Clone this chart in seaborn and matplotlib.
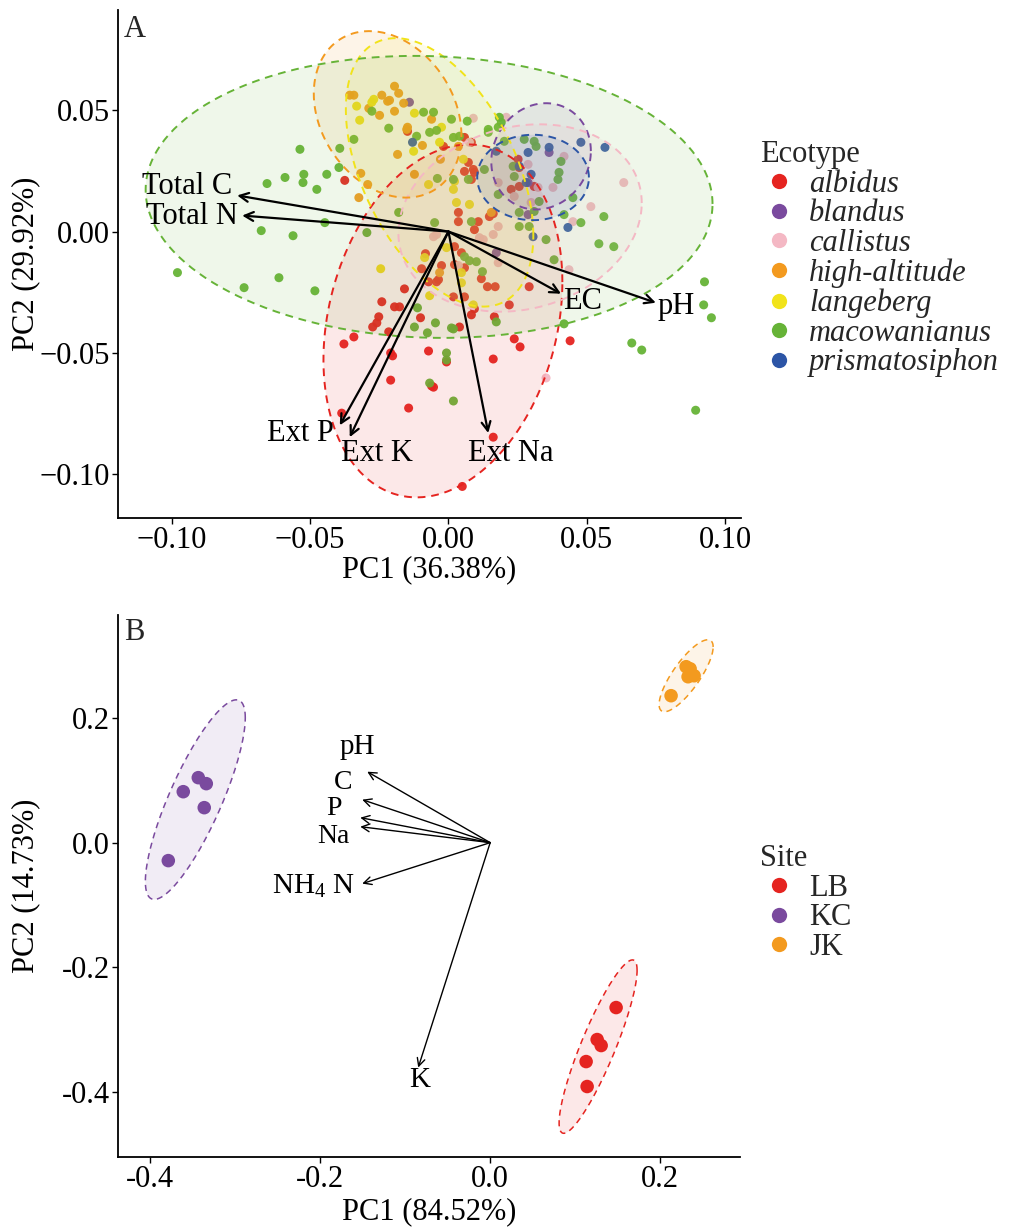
import numpy as np
import pandas as pd
import matplotlib
matplotlib.use("Agg")
import matplotlib.pyplot as plt
from matplotlib.lines import Line2D
import seaborn as sns

sns.set_theme(style="white")
plt.rcParams['font.family'] = ['Liberation Serif', 'DejaVu Serif']
plt.rcParams['mathtext.fontset'] = 'custom'
plt.rcParams['mathtext.rm'] = 'Liberation Serif'
plt.rcParams['mathtext.it'] = 'Liberation Serif:italic'

# ---------------- Panel A data ----------------
ecotypes = ["albidus", "blandus", "callistus", "high-altitude", "langeberg", "macowanianus", "prismatosiphon"]
eco_colors = ["#E52420", "#7A4A9E", "#F4B8C4", "#F39A1F", "#F1E31A", "#66B337", "#2C55A6"]

albidus_x = [-0.0375, -0.0148, -0.0018, 0.0058, 0.0083, 0.0072, 0.0090, 0.0058, 0.0094, 0.0083, 0.0252, 0.0256,
             0.0227, 0.0256, 0.0310, 0.0036, 0.0036, 0.0108, 0.0148, 0.0162, 0.0094, 0.0022, 0.0047, -0.0083,
             -0.0097, -0.0025, -0.0036, -0.0072, 0.0058, 0.0119, 0.0141, 0.0169, -0.0159, 0.0018, 0.0058,
             -0.0241, -0.0195, -0.0177, -0.0252, -0.0259, -0.0274, -0.0101, 0.0083, 0.0094, -0.0378, -0.0342,
             0.0040, -0.0216, -0.0209, -0.0202, -0.0209, -0.0072, -0.0054, -0.0144, 0.0162, 0.0162, 0.0050,
             -0.0386, 0.0238, 0.0259, 0.0440, -0.0007, 0.0166, 0.0220, -0.0043, 0.0022, 0.0292, -0.0061]
albidus_y = [0.0211, 0.0413, 0.0351, 0.0388, 0.0368, 0.0285, 0.0256, 0.0248, 0.0244, 0.0215, 0.0298, 0.0264,
             0.0174, 0.0186, 0.0186, 0.0079, 0.0041, 0.0041, 0.0062, 0.0074, 0.0008, -0.0062, -0.0087, -0.0091,
             -0.0153, -0.0140, -0.0198, -0.0207, -0.0149, -0.0194, -0.0227, -0.0227, -0.0236, -0.0269, -0.0269,
             -0.0289, -0.0310, -0.0310, -0.0351, -0.0376, -0.0393, -0.0355, -0.0343, -0.0318, -0.0463, -0.0434,
             -0.0393, -0.0413, -0.0500, -0.0512, -0.0612, -0.0492, -0.0641, -0.0727, -0.0525, -0.0847, -0.1050,
             -0.0748, -0.0442, -0.0475, -0.0450, -0.0537, -0.0351, -0.0302, -0.0207, -0.0136, -0.0227, -0.0636]

blandus_x = [-0.0141, 0.0364, 0.0288, 0.0288, 0.0173]
blandus_y = [0.0533, 0.0326, 0.0202, 0.0070, -0.0087]

callistus_x = [0.0090, 0.0209, 0.0418, 0.0378, 0.0515, 0.0634, 0.0450, 0.0299, 0.0180, 0.0076, 0.0238, 0.0288,
               0.0324, -0.0054, -0.0043, 0.0162, 0.0126, 0.0180, 0.0036, 0.0180, 0.0436, 0.0353, 0.0112]
callistus_y = [0.0467, 0.0471, 0.0310, 0.0182, 0.0103, 0.0202, 0.0041, 0.0120, 0.0202, 0.0368, 0.0145, 0.0277,
               0.0182, -0.0021, -0.0012, -0.0012, -0.0033, 0.0021, -0.0140, -0.0128, -0.0157, -0.0603, -0.0025]

highalt_x = [-0.0357, -0.0342, -0.0195, -0.0180, -0.0241, -0.0220, -0.0288, -0.0249, -0.0195, -0.0162, -0.0148,
             -0.0061, -0.0094, -0.0184, -0.0123, -0.0317, -0.0292, -0.0324, 0.0036, -0.0029, -0.0032, 0.0155,
             -0.0213, -0.0151]
highalt_y = [0.0562, 0.0562, 0.0599, 0.0570, 0.0562, 0.0537, 0.0508, 0.0479, 0.0496, 0.0529, 0.0430, 0.0463,
             0.0355, 0.0318, 0.0236, 0.0240, 0.0194, 0.0140, 0.0351, 0.0298, -0.0169, 0.0079, 0.0541, 0.0421]

langeberg_x = [-0.0270, -0.0277, -0.0332, -0.0321, -0.0123, -0.0126, -0.0032, 0.0054, 0.0018, -0.0072, 0.0029,
               0.0076, -0.0025, -0.0245, -0.0086, -0.0007, 0.0047, -0.0068, 0.0090, 0.0047, 0.0022]
langeberg_y = [0.0545, 0.0533, 0.0517, 0.0459, 0.0488, 0.0331, 0.0368, 0.0298, 0.0174, 0.0194, 0.0120, 0.0112,
               0.0430, -0.0153, -0.0107, -0.0066, -0.0169, -0.0264, -0.0302, -0.0211, 0.0207]

macow_x = [-0.0277, -0.0342, -0.0216, -0.0115, -0.0068, -0.0090, -0.0054, -0.0537, -0.0393, -0.0396, -0.0440,
           -0.0523, -0.0591, -0.0656, -0.0526, -0.0476, -0.0447, -0.0562, -0.0677, -0.0180, -0.0295, -0.0980,
           -0.0739, -0.0613, -0.0483, 0.0926, 0.0923, 0.0951, 0.0663, 0.0699, 0.0894, 0.0418, 0.0018, -0.0007,
           -0.0007, -0.0068, 0.0101, 0.0123, 0.0173, -0.0047, 0.0018, 0.0382, 0.0011, 0.0068, -0.0043, 0.0018,
           0.0040, 0.0144, 0.0180, 0.0191, 0.0184, 0.0144, 0.0202, 0.0274, 0.0310, 0.0317, 0.0234, 0.0238,
           0.0130, 0.0407, 0.0400, 0.0396, 0.0450, 0.0418, 0.0479, 0.0562, 0.0544, 0.0598, 0.0353, 0.0292,
           0.0256, 0.0256, 0.0310, 0.0328, 0.0180, -0.0050, 0.0083, -0.0040, 0.0018, 0.0072, 0.0076, 0.0058,
           -0.0112, -0.0123, -0.0076, 0.0011]
macow_y = [0.0496, 0.0380, 0.0426, 0.0393, 0.0409, 0.0492, 0.0492, 0.0339, 0.0343, 0.0264, 0.0236,
           0.0236, 0.0223, 0.0198, 0.0202, 0.0174, 0.0037, -0.0017, 0.0004, 0.0079, -0.0004, -0.0169,
           -0.0231, -0.0190, -0.0244, -0.0207, -0.0302, -0.0355, -0.0459, -0.0488, -0.0736, -0.0380, -0.0698, -0.0500,
           -0.0529, -0.0624, -0.0124, -0.0165, -0.0372, -0.0376, -0.0401, -0.0116, 0.0463, 0.0455, 0.0417, 0.0388,
           0.0393, 0.0421, 0.0430, 0.0450, 0.0471, 0.0409, 0.0372, 0.0380, 0.0372, 0.0351, 0.0269, 0.0227,
           0.0256, 0.0289, 0.0244, 0.0215, 0.0140, 0.0070, 0.0037, 0.0062, -0.0050, -0.0062, -0.0033, 0.0021,
           0.0021, 0.0079, 0.0083, 0.0124, 0.0153, 0.0037, 0.0041, 0.0219, 0.0215, 0.0215, -0.0120, -0.0103,
           -0.0314, -0.0393, -0.0417, -0.0397]

prism_x = [-0.0130, 0.0173, 0.0288, 0.0299, 0.0281, 0.0364, 0.0479, 0.0566, 0.0432, 0.0306, 0.0256]
prism_y = [0.0368, 0.0331, 0.0326, 0.0236, 0.0202, 0.0347, 0.0368, 0.0347, 0.0017, -0.0021, 0.0269]

# 95% ellipse parameters: centre, half-extent in x and y, correlation
ellA_cx = [-0.0020, 0.0335, 0.0259, -0.0220, -0.0032, -0.0070, 0.0306]
ellA_cy = [-0.0368, 0.0310, 0.0056, 0.0483, 0.0244, 0.0143, 0.0223]
ellA_a = [0.0432, 0.0180, 0.0440, 0.0267, 0.0339, 0.1025, 0.0202]
ellA_b = [0.0727, 0.0219, 0.0386, 0.0343, 0.0553, 0.0581, 0.0176]
ellA_r = [0.22, 0.10, 0.16, -0.25, -0.47, -0.05, 0.0]

varsA = ["Total C", "Total N", "EC", "pH", "Ext P", "Ext K", "Ext Na"]
loadA_x = [-0.0764, -0.0746, 0.0407, 0.0750, -0.0393, -0.0357, 0.0144]
loadA_y = [0.0149, 0.0066, -0.0256, -0.0293, -0.0798, -0.0847, -0.0830]
labA_x = [-0.0944, -0.0926, 0.0486, 0.0825, -0.0537, -0.0259, 0.0227]
labA_y = [0.0186, 0.0062, -0.0289, -0.0310, -0.0831, -0.0913, -0.0913]

xticksA = [-0.10, -0.05, 0.00, 0.05, 0.10]
xticklabelsA = ["\u22120.10", "\u22120.05", "0.00", "0.05", "0.10"]
yticksA = [-0.10, -0.05, 0.00, 0.05]
yticklabelsA = ["\u22120.10", "\u22120.05", "0.00", "0.05"]

# ---------------- Panel B data ----------------
sites = ["LB", "KC", "JK"]
site_colors = ["#E52420", "#7A4A9E", "#F39A1F"]
LB_x = [0.1482, 0.1259, 0.1306, 0.1129, 0.1141]
LB_y = [-0.2644, -0.3157, -0.3253, -0.3510, -0.3910]
KC_x = [-0.3435, -0.3341, -0.3612, -0.3365, -0.3788]
KC_y = [0.1042, 0.0946, 0.0817, 0.0561, -0.0288]
JK_x = [0.2306, 0.2353, 0.2329, 0.2400, 0.2129]
JK_y = [0.2821, 0.2788, 0.2660, 0.2676, 0.2356]

ellB_cx = [0.127, -0.347, 0.2306]
ellB_cy = [-0.327, 0.069, 0.2676]
ellB_a = [0.0459, 0.0588, 0.0318]
ellB_b = [0.139, 0.160, 0.0577]
ellB_r = [0.88, 0.82, 0.80]

varsB = ["pH", "C", "P", "Na", "NH$_4$ N", "K"]
loadB_x = [-0.1447, -0.1506, -0.1529, -0.1529, -0.1506, -0.0847]
loadB_y = [0.1138, 0.0689, 0.0401, 0.0256, -0.0657, -0.3606]
labB_x = [-0.1565, -0.1730, -0.1835, -0.1847, -0.2082, -0.0824]
labB_y = [0.1540, 0.0960, 0.0540, 0.0100, -0.0705, -0.3798]
labB_size = [21, 20, 20, 20, 21, 21]

xticksB = [-0.4, -0.2, 0.0, 0.2]
xticklabelsB = ["-0.4", "-0.2", "0.0", "0.2"]
yticksB = [-0.4, -0.2, 0.0, 0.2]
yticklabelsB = ["-0.4", "-0.2", "0.0", "0.2"]

# ---------------- build frames ----------------
dfA = pd.concat([
    pd.DataFrame({"PC1": xs, "PC2": ys, "Ecotype": name})
    for name, xs, ys in zip(ecotypes,
                            [albidus_x, blandus_x, callistus_x, highalt_x, langeberg_x, macow_x, prism_x],
                            [albidus_y, blandus_y, callistus_y, highalt_y, langeberg_y, macow_y, prism_y])
], ignore_index=True)
dfB = pd.concat([
    pd.DataFrame({"PC1": xs, "PC2": ys, "Site": name})
    for name, xs, ys in zip(sites, [LB_x, KC_x, JK_x], [LB_y, KC_y, JK_y])
], ignore_index=True)

FS = 22

def ellipse_pts(cx, cy, a, b, r):
    t = np.linspace(0, 2 * np.pi, 300)
    x = cx + a * np.cos(t)
    y = cy + b * (r * np.cos(t) + np.sqrt(1 - r * r) * np.sin(t))
    return x, y

def style_axes(ax):
    for s in ["top", "right"]:
        ax.spines[s].set_visible(False)
    for s in ["left", "bottom"]:
        ax.spines[s].set_color("black")
        ax.spines[s].set_linewidth(1.3)
    ax.tick_params(axis="both", which="both", direction="out", length=4, width=1.0,
                   color="black", labelsize=FS, labelcolor="black", pad=2,
                   bottom=True, left=True)
    ax.grid(False)
    ax.set_facecolor("white")

fig = plt.figure(figsize=(10.16, 12.27), dpi=100)
fig.patch.set_facecolor("white")

# ---------------- Panel A ----------------
axA = fig.add_axes([118 / 1016, 1 - 518 / 1227, (741 - 118) / 1016, (518 - 10) / 1227])
sns.scatterplot(data=dfA, x="PC1", y="PC2", hue="Ecotype", hue_order=ecotypes,
                palette=eco_colors, s=42, edgecolor="none", alpha=0.95, legend=False, ax=axA, zorder=2)
for i, col in enumerate(eco_colors):
    ex, ey = ellipse_pts(ellA_cx[i], ellA_cy[i], ellA_a[i], ellA_b[i], ellA_r[i])
    axA.fill(ex, ey, color=col, alpha=0.1, lw=0, zorder=3)
    axA.plot(ex, ey, color=col, lw=1.4, dashes=(4, 3), zorder=4)
for v, lx, ly, tx, ty in zip(varsA, loadA_x, loadA_y, labA_x, labA_y):
    axA.annotate("", xy=(lx, ly), xytext=(0, 0),
                 arrowprops=dict(arrowstyle="->", lw=1.6, color="black", mutation_scale=16,
                                 shrinkA=0, shrinkB=0), zorder=5)
    axA.text(tx, ty, v, fontsize=FS, ha="center", va="center", color="black", zorder=6)
axA.set_xlim(-0.1195, 0.1058)
axA.set_ylim(-0.118, 0.0913)
axA.set_xticks(xticksA)
axA.set_xticklabels(xticklabelsA)
axA.set_yticks(yticksA)
axA.set_yticklabels(yticklabelsA)
axA.set_xlabel("PC1 (36.38%)", fontsize=FS, labelpad=0, color="black")
axA.set_ylabel("PC2 (29.92%)", fontsize=FS, color="black")
style_axes(axA)
axA.yaxis.set_label_coords(-0.125, 0.5)
axA.text(0.01, 0.99, "A", transform=axA.transAxes, fontsize=FS, ha="left", va="top")

handlesA = [Line2D([0], [0], marker="o", ls="none", markersize=11, markerfacecolor=c,
                   markeredgecolor="none") for c in eco_colors]
legA = fig.legend(handlesA, ecotypes, title="Ecotype", loc="upper left",
                  bbox_to_anchor=(748 / 1016, 1 - 128 / 1227), frameon=False,
                  prop={"size": FS, "style": "italic"}, title_fontsize=FS,
                  handletextpad=0.4, labelspacing=0.02, borderaxespad=0, handlelength=1.2)
legA._legend_box.align = "left"

# ---------------- Panel B ----------------
axB = fig.add_axes([118 / 1016, 1 - 1157 / 1227, (740 - 118) / 1016, (1157 - 615) / 1227])
for i, col in enumerate(site_colors):
    ex, ey = ellipse_pts(ellB_cx[i], ellB_cy[i], ellB_a[i], ellB_b[i], ellB_r[i])
    axB.fill(ex, ey, color=col, alpha=0.1, lw=0, zorder=2)
    axB.plot(ex, ey, color=col, lw=1.1, dashes=(4, 3), zorder=3)
sns.scatterplot(data=dfB, x="PC1", y="PC2", hue="Site", hue_order=sites,
                palette=site_colors, s=95, edgecolor="none", legend=False, ax=axB, zorder=4)
for v, lx, ly, tx, ty, fs in zip(varsB, loadB_x, loadB_y, labB_x, labB_y, labB_size):
    axB.annotate("", xy=(lx, ly), xytext=(0, 0),
                 arrowprops=dict(arrowstyle="->", lw=1.0, color="black", mutation_scale=14,
                                 shrinkA=0, shrinkB=0), zorder=5)
    axB.text(tx, ty, v, fontsize=fs, ha="center", va="center", color="black", zorder=6)
axB.set_xlim(-0.438, 0.294)
axB.set_ylim(-0.504, 0.365)
axB.set_xticks(xticksB)
axB.set_xticklabels(xticklabelsB)
axB.set_yticks(yticksB)
axB.set_yticklabels(yticklabelsB)
axB.set_xlabel("PC1 (84.52%)", fontsize=FS, labelpad=2, color="black")
axB.set_ylabel("PC2 (14.73%)", fontsize=FS, color="black")
style_axes(axB)
axB.yaxis.set_label_coords(-0.125, 0.5)
axB.text(0.01, 0.995, "B", transform=axB.transAxes, fontsize=FS, ha="left", va="top")

handlesB = [Line2D([0], [0], marker="o", ls="none", markersize=11, markerfacecolor=c,
                   markeredgecolor="none") for c in site_colors]
legB = fig.legend(handlesB, sites, title="Site", loc="upper left",
                  bbox_to_anchor=(748 / 1016, 1 - 832 / 1227), frameon=False,
                  prop={"size": FS}, title_fontsize=FS,
                  handletextpad=0.4, labelspacing=0.02, borderaxespad=0, handlelength=1.2)
legB._legend_box.align = "left"

fig.savefig("out.png", dpi=100, facecolor="white")
